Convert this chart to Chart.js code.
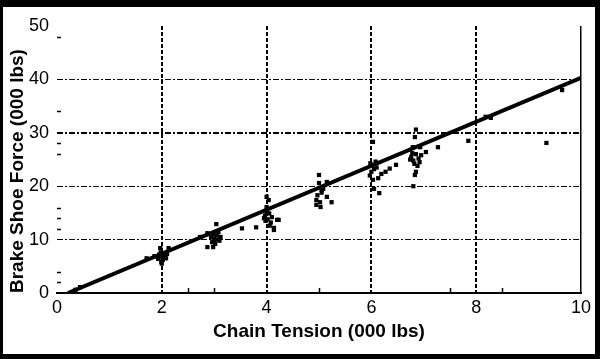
<!DOCTYPE html>
<html>
<head>
<meta charset="utf-8">
<script src="https://cdn.jsdelivr.net/npm/chart.js@4"></script>
<style>
    body { margin: 0; background: #fff; }
    #frame {
        width: 600px; height: 359px; box-sizing: border-box;
        border-style: solid; border-color: #000;
        border-width: 7px 5px 5px 3px; background: #fff;
    }
    #wrap { position: relative; width: 592px; height: 347px; }
</style>
</head>
<body>
<div id="frame"><div id="wrap"><canvas id="brakeChart"></canvas></div></div>
<script>
// chain tension (000 lbs) vs brake shoe force (000 lbs)
const tension = [
    0.44, 0.35,
    1.71, 1.86, 1.97, 2.13, 1.99, 2.00, 1.95, 2.05, 2.02, 1.98, 2.08, 2.00, 2.10, 1.93,
    2.73, 2.87, 2.87, 2.98, 3.04, 2.96, 3.00, 3.05, 3.10, 2.98, 3.02, 3.08, 2.94, 3.12, 3.00, 3.06,
    3.53, 3.80,
    4.00, 4.04, 4.00, 3.97, 4.02, 4.05, 4.08, 3.98, 4.10, 4.20, 4.14, 4.06, 4.14, 4.23, 4.00, 3.95,
    5.00, 5.00, 5.15, 5.05, 4.95, 5.03, 5.15, 5.24, 4.97, 5.02, 4.95, 5.05, 5.08,
    6.03, 5.98, 6.08, 6.03, 6.13, 6.05, 6.15, 6.27, 6.19, 6.47, 6.00, 6.05, 6.10, 5.97, 6.35,
    6.85, 6.83, 6.79, 6.93, 7.04, 7.27, 6.76, 6.80, 6.85, 6.90, 6.82, 6.88, 6.78, 6.92, 6.85, 6.83, 6.80, 6.95, 6.74,
    7.85, 8.18, 8.28, 9.34, 9.64
];
const shoeForce = [
    1.1, 0.6,
    6.5, 6.9, 8.4, 8.4, 5.8, 6.7, 7.2, 7.0, 6.2, 7.6, 6.5, 5.5, 7.3, 6.4,
    10.5, 11.2, 8.6, 8.6, 12.9, 9.5, 10.2, 10.8, 9.8, 11.0, 9.2, 11.4, 10.4, 10.5, 9.8, 10.0,
    12.1, 12.3,
    18.0, 17.4, 16.1, 14.5, 13.8, 14.9, 13.2, 13.5, 14.2, 13.7, 12.2, 12.6, 11.8, 13.7, 15.2, 14.0,
    22.1, 20.6, 20.8, 19.3, 17.4, 16.1, 18.0, 17.0, 18.3, 17.0, 16.5, 18.8, 19.5,
    28.3, 24.3, 24.6, 21.2, 21.5, 19.5, 18.7, 22.7, 22.3, 24.0, 22.7, 23.2, 23.5, 22.0, 23.3,
    30.6, 29.2, 27.3, 27.3, 26.4, 27.3, 25.5, 24.8, 26.0, 25.2, 24.2, 23.8, 26.2, 24.5, 22.7, 22.1, 20.0, 25.8, 25.0,
    28.5, 33.0, 32.8, 28.1, 38.0
];
// fitted line end points
const fitTension = [0.21, 10];
const fitForce = [0, 40.3];
// small marks on the inside of the axes
const xRugTicks = [2.5, 3, 5, 7.5, 8.5];
const yRugTicks = [2, 4, 12, 14, 16, 26, 28, 34, 48];

const rugPlugin = {
    id: 'rug',
    afterDatasetsDraw: function(chart) {
        let c = chart.ctx;
        let xs = chart.scales.x, ys = chart.scales.y;
        c.save();
        c.strokeStyle = '#000';
        c.lineWidth = 1.5;
        c.beginPath();
        xRugTicks.forEach(function(v) {
            let px = Math.round(xs.getPixelForValue(v)) + 0.5;
            c.moveTo(px, ys.bottom);
            c.lineTo(px, ys.bottom - 5);
        });
        yRugTicks.forEach(function(v) {
            let py = Math.round(ys.getPixelForValue(v)) + 0.5;
            c.moveTo(xs.left, py);
            c.lineTo(xs.left + 4, py);
        });
        c.stroke();
        c.restore();
    }
};

let points = tension.map(function(t, i) { return {x: t, y: shoeForce[i]}; });
let fit = fitTension.map(function(t, i) { return {x: t, y: fitForce[i]}; });

let ctx = document.getElementById('brakeChart');
let chart = new Chart(ctx, {
    type: 'scatter',
    data: {
        datasets: [
            {
                label: 'Observed',
                data: points,
                pointStyle: 'rect',
                pointRadius: 3,
                backgroundColor: '#000',
                borderColor: '#000',
                borderWidth: 0
            },
            {
                type: 'line',
                label: 'Fit',
                data: fit,
                borderColor: '#000',
                borderWidth: 4,
                pointRadius: 0,
                fill: false
            }
        ]
    },
    options: {
        responsive: true,
        maintainAspectRatio: false,
        animation: false,
        layout: { padding: { top: 19, right: 11, left: 0, bottom: 0 } },
        plugins: { legend: { display: false }, tooltip: { enabled: false } },
        scales: {
            x: {
                type: 'linear', min: 0, max: 10,
                afterFit: function(scale) { scale.height = 61; },
                ticks: { stepSize: 2, padding: 4, color: '#000', font: { family: 'Liberation Sans', size: 18 } },
                grid: {
                    drawTicks: false,
                    color: function(c) { return (c.tick && c.tick.value > 0) ? '#000' : 'rgba(0,0,0,0)'; },
                    lineWidth: function(c) { return (c.tick && c.tick.value === 10) ? 1.5 : 2; }
                },
                border: {
                    display: true, color: '#000', width: 2,
                    dash: function(c) { return (c.tick && c.tick.value === 10) ? [] : [4, 2]; }
                },
                title: {
                    display: true, text: 'Chain Tension (000 lbs)', color: '#000',
                    font: { family: 'Liberation Sans', size: 19, weight: 'bold' },
                    padding: { top: 0, bottom: 11 }
                }
            },
            y: {
                type: 'linear', min: 0, max: 50,
                afterFit: function(scale) { scale.width = 54; },
                ticks: { stepSize: 10, padding: 8, color: '#000', font: { family: 'Liberation Sans', size: 18 } },
                grid: {
                    drawTicks: false,
                    color: function(c) { return (c.tick && c.tick.value > 0 && c.tick.value < 50) ? '#000' : 'rgba(0,0,0,0)'; },
                    lineWidth: function(c) { return (c.tick && c.tick.value === 30) ? 2 : 1; }
                },
                border: { display: false, dash: [6, 2, 2, 2] },
                title: {
                    display: true, text: 'Brake Shoe Force (000 lbs)', color: '#000', align: 'start',
                    font: { family: 'Liberation Sans', size: 19, weight: 'bold' },
                    padding: { top: 3, bottom: 0 }
                }
            }
        }
    },
    plugins: [rugPlugin]
});
</script>
</body>
</html>
